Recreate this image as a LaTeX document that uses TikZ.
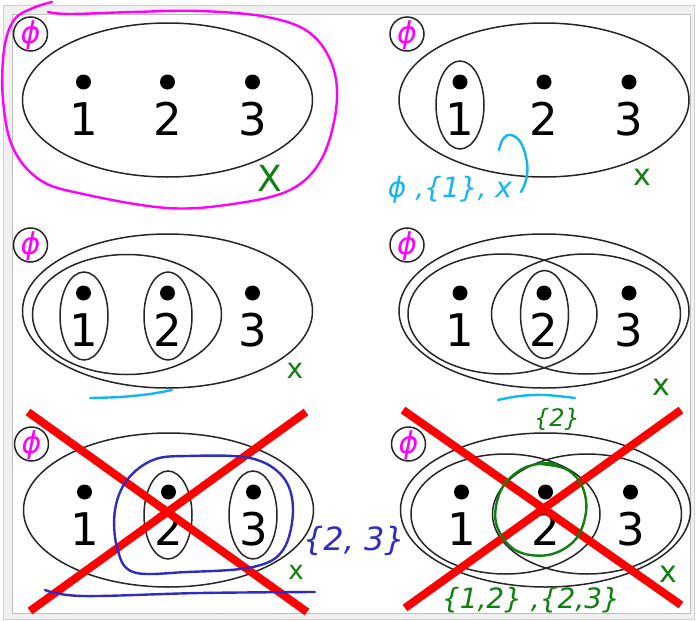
\documentclass[tikz,border=0pt]{standalone}
\usepackage{fontspec}
\setmainfont{DejaVu Sans}
\usetikzlibrary{shapes.geometric}
\definecolor{mag}{HTML}{FF00FF}
\definecolor{cyn}{HTML}{12B6F2}
\definecolor{grn}{HTML}{0F7F0F}
\definecolor{blu}{HTML}{2D2DC3}
\definecolor{ink}{HTML}{262626}
\tikzset{
  bigell/.style={ellipse, draw=ink, line width=1.5pt, inner sep=0pt, minimum width=290pt, minimum height=154pt},
  midell/.style={ellipse, draw=ink, line width=1.5pt, inner sep=0pt, minimum width=189pt, minimum height=120pt},
  smallell/.style={ellipse, draw=ink, line width=1.5pt, inner sep=0pt, minimum width=48pt, minimum height=88pt},
  phicirc/.style={circle, draw=ink, line width=1.5pt, inner sep=0pt, minimum size=34pt},
  dotnode/.style={circle, fill=black, inner sep=0pt, minimum size=15pt},
  digit/.style={anchor=base, inner sep=0pt, font=\fontsize{45}{45}\selectfont},
  phimark/.style={text=mag, inner sep=0pt, font=\fontsize{30}{30}\selectfont\itshape},
  hand/.style={inner sep=0pt, font=\fontsize{#1}{#1}\selectfont\itshape},
  uphand/.style={inner sep=0pt, font=\fontsize{#1}{#1}\selectfont},
  redx/.style={draw=red, line width=8pt},
  freehand/.style={line width=2.4pt, line cap=round, line join=round},
}
\newcommand\basepanel[3]{%
  \begin{scope}[shift={(#2,#3)}]
    \node[bigell] (#1big) at (0,0) {};
    \node[phicirc] (#1phi) at (-137,-66) {};
    \node[phimark] (#1phit) at (-137,-65) {ϕ};
    \node[dotnode] (#1d1) at (-84,-18) {};
    \node[dotnode] (#1d2) at (0,-18) {};
    \node[dotnode] (#1d3) at (85,-18) {};
    \node[digit] (#1n1) at (-84,35) {1};
    \node[digit] (#1n2) at (0,35) {2};
    \node[digit] (#1n3) at (85,35) {3};
  \end{scope}}
\begin{document}
\begin{tikzpicture}[x=1pt,y=-1pt]
\useasboundingbox (0,0) rectangle (696,621);
% window frame
\filldraw[fill=black!6, draw=black!18] (3,5) rectangle (694,619);
\filldraw[fill=white, draw=black!25, line width=1pt] (12,14) rectangle (690,613);

% panel 1
\basepanel{pa}{167.5}{100}
% panel 2
\basepanel{pb}{544}{100}
\node[smallell] (pbs1) at (460,105) {};
% panel 3
\basepanel{pc}{167.5}{311}
\node[midell] (pcm) at (127,314.5) {};
\node[smallell] (pcs1) at (84,316) {};
\node[smallell] (pcs2) at (168,316) {};
% panel 4
\basepanel{pd}{544}{311}
\node[midell] (pdl) at (502.5,314) {};
\node[midell] (pdr) at (586,314) {};
\node[smallell] (pds2) at (544.5,314.5) {};
% panel 5
\basepanel{pe}{168.5}{510}
\node[smallell] (pes2) at (168,515) {};
\node[smallell] (pes3) at (253,515) {};
% panel 6
\basepanel{pf}{545.5}{510}
\node[midell] (pfl) at (505.5,514) {};
\node[midell] (pfr) at (587,514) {};

% red crosses
\coordinate (ea) at (28,412); \coordinate (eb) at (307,612);
\coordinate (ec) at (306,412); \coordinate (ed) at (30,611);
\draw[redx] (ea) -- (eb); \draw[redx] (ec) -- (ed);
\coordinate (fa) at (403,410); \coordinate (fb) at (681,605);
\coordinate (fc) at (681,410); \coordinate (fd) at (405,608);
\draw[redx] (fa) -- (fb); \draw[redx] (fc) -- (fd);

% magenta loop round panel 1
\draw[freehand, mag] plot[smooth, tension=0.6] coordinates {
 (52,2) (33,8) (14,20) (4,50) (3,100) (13,148) (40,180) (83,194) (167,208)
 (233,204) (290,190) (321,160) (336,110) (333,67) (310,33) (267,17) (200,11)
 (133,12) (70,14) (48,12)};

% cyan notes
\node[hand=28, text=cyn] (cnote) at (450,190) {ϕ ,\{1\}, x};
\draw[freehand, cyn] plot[smooth, tension=0.7] coordinates {
 (499,150) (503,139) (511,135) (521,143) (527,163) (526,180) (521,192)};
\draw[freehand, cyn] plot[smooth, tension=0.6] coordinates {
 (90,398) (120,397) (150,394) (172,390)};
\draw[freehand, cyn] plot[smooth, tension=0.6] coordinates {
 (498,400) (520,396) (545,395) (575,398)};

% green x marks
\node[uphand=36, text=grn] (gx1) at (270,178) {X};
\node[uphand=30, text=grn] (gx2) at (642,177) {x};
\node[uphand=28, text=grn] (gx3) at (295,371) {x};
\node[uphand=30, text=grn] (gx4) at (661,387) {x};
\node[uphand=26, text=grn] (gx5) at (296,572) {x};
\node[uphand=30, text=grn] (gx6) at (668,574) {x};

% blue notes
\draw[freehand, blu] plot[smooth cycle, tension=0.6] coordinates {
 (187,456) (250,458) (283,477) (293,510) (283,550) (253,567) (187,572)
 (133,572) (117,547) (115,510) (127,480) (153,460)};
\draw[freehand, blu] plot[smooth, tension=0.6] coordinates {
 (45,590) (83,596) (200,593) (315,592)};
\node[hand=32, text=blu] (bnote) at (354,541) {\{2, 3\}};

% green notes in panel 6
\draw[freehand, grn] plot[smooth, tension=0.6] coordinates {
 (540,464) (566,469) (582,486) (586,512) (575,540) (548,555) (515,550)
 (496,523) (501,490) (522,469) (548,463) (560,467)};
\node[hand=24, text=grn] (gn1) at (557,419) {\{2\}};
\node[hand=28, text=grn] (gn2) at (531,600) {\{1,2\} ,\{2,3\}};
\end{tikzpicture}
\end{document}
